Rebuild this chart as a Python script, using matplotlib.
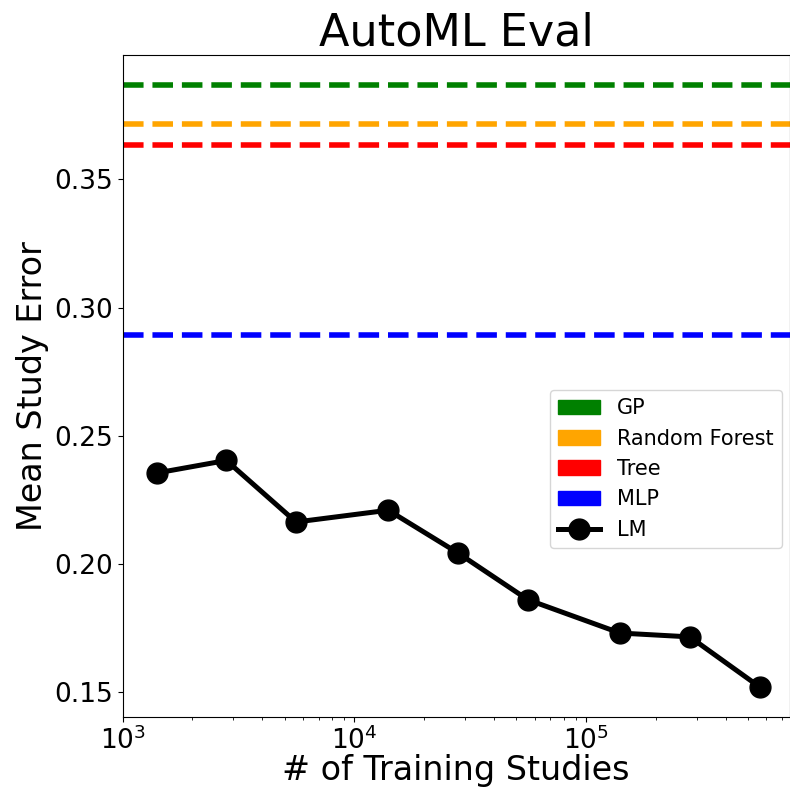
import matplotlib
matplotlib.use("Agg")
import matplotlib.pyplot as plt
from matplotlib.patches import Patch
from matplotlib.lines import Line2D

# LM results vs. number of training studies
num_studies = [1400, 2800, 5600, 14000, 28000, 56000, 140000, 280000, 560000]
lm_error = [0.2355, 0.2404, 0.2164, 0.2210, 0.2043, 0.1861, 0.1731, 0.1716, 0.1521]

# baselines (constant)
baseline_names = ["GP", "Random Forest", "Tree", "MLP"]
baseline_error = [0.3869, 0.3717, 0.3635, 0.2892]
baseline_colors = ["green", "orange", "red", "blue"]

fig = plt.figure(figsize=(7.9, 7.89), dpi=100)
ax = fig.add_axes([122.7 / 790, 1 - 717 / 789, 667 / 790, 662.3 / 789])

for err, c in zip(baseline_error, baseline_colors):
    ax.axhline(err, color=c, linestyle="--", linewidth=4)

ax.plot(num_studies, lm_error, color="black", marker="o", markersize=15, linewidth=3.6)

ax.set_xscale("log")
ax.set_xlim(left=1000)

ax.set_title("AutoML Eval", fontsize=32)
ax.set_xlabel("# of Training Studies", fontsize=24, labelpad=-1)
ax.set_ylabel("Mean Study Error", fontsize=24)
ax.tick_params(axis="both", which="major", labelsize=19)

handles = [Patch(color=c, label=n) for n, c in zip(baseline_names, baseline_colors)]
handles.append(Line2D([], [], color="black", marker="o", markersize=15, linewidth=3.6, label="LM"))
ax.legend(handles=handles, loc="upper right", bbox_to_anchor=(0.988, 0.494),
          borderaxespad=0, fontsize=15, labelspacing=0.5)

fig.savefig("out.png", dpi=100)
